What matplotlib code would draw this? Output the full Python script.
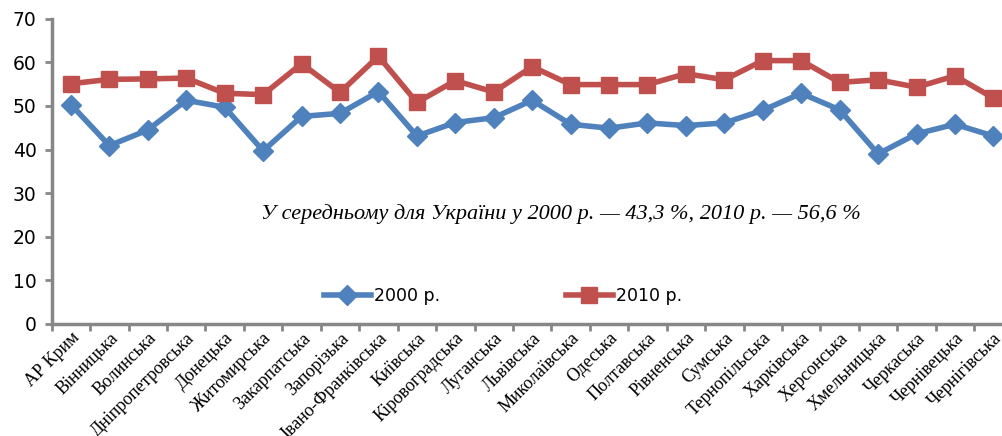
import matplotlib.pyplot as plt

# регіони України
regions = ['АР Крим', 'Вінницька', 'Волинська', 'Дніпропетровська', 'Донецька',
           'Житомирська', 'Закарпатська', 'Запорізька', 'Івано-Франківська',
           'Київська', 'Кіровоградська', 'Луганська', 'Львівська', 'Миколаївська',
           'Одеська', 'Полтавська', 'Рівненська', 'Сумська', 'Тернопільська',
           'Харківська', 'Херсонська', 'Хмельницька', 'Черкаська', 'Чернівецька',
           'Чернігівська']

# значення за роками
vals_2000 = [50.3, 40.9, 44.5, 51.3, 49.7, 39.7, 47.6, 48.3, 53.3, 43.1, 46.2, 47.3,
             51.3, 45.8, 44.9, 46.1, 45.5, 46.1, 49.0, 52.9, 49.1, 39.0, 43.6, 45.8,
             43.1]
vals_2010 = [55.1, 56.1, 56.2, 56.4, 52.9, 52.6, 59.7, 53.1, 61.4, 50.8, 55.8, 53.2,
             59.0, 54.9, 54.9, 54.9, 57.4, 56.0, 60.4, 60.4, 55.4, 56.0, 54.3, 56.9,
             51.8]
yticks = [0, 10, 20, 30, 40, 50, 60, 70]
note = 'У середньому для України у 2000 р. — 43,3 %, 2010 р. — 56,6 %'

blue = '#4F81BD'
red = '#C0504D'
grey = '#878787'

fig = plt.figure(figsize=(10.03, 4.36), dpi=100)
ax = fig.add_axes([0.0516, 0.257, 0.958, 0.700])

x = list(range(len(regions)))
ax.plot(x, vals_2000, color=blue, lw=4, marker='D', markersize=10,
        label='2000 р.', solid_joinstyle='miter')
ax.plot(x, vals_2010, color=red, lw=4, marker='s', markersize=11.5,
        label='2010 р.', solid_joinstyle='miter')

ax.set_xlim(-0.5, len(regions) - 0.5)
ax.set_ylim(0, 70)
ax.set_yticks(yticks)
ax.set_yticklabels([str(v) for v in yticks], fontsize=13.5, family='DejaVu Sans')

# мітки поділок між категоріями
ax.set_xticks([i - 0.5 for i in range(len(regions) + 1)])
ax.set_xticklabels([])
ax.set_xticks(x, minor=True)
ax.set_xticklabels(regions, minor=True, rotation=45, ha='right',
                   rotation_mode='anchor', family='Liberation Serif', fontsize=13)
ax.tick_params(axis='x', which='minor', length=0, pad=4)
ax.tick_params(axis='both', which='major', direction='out', length=5, width=2,
               color=grey)
ax.tick_params(axis='y', pad=6)

for s in ['top', 'right']:
    ax.spines[s].set_visible(False)
for s in ['left', 'bottom']:
    ax.spines[s].set_color(grey)
    ax.spines[s].set_linewidth(2.5)

ax.text(0.53, 0.36, note, transform=ax.transAxes, ha='center', va='center',
        family='Liberation Serif', style='italic', fontsize=16)

ax.legend(loc='center', bbox_to_anchor=(0.4697, 0.092), ncol=2, frameon=False,
          fontsize=12.5, columnspacing=7.25, handlelength=2.7, handletextpad=0.2)

plt.savefig('out.png', dpi=100)
